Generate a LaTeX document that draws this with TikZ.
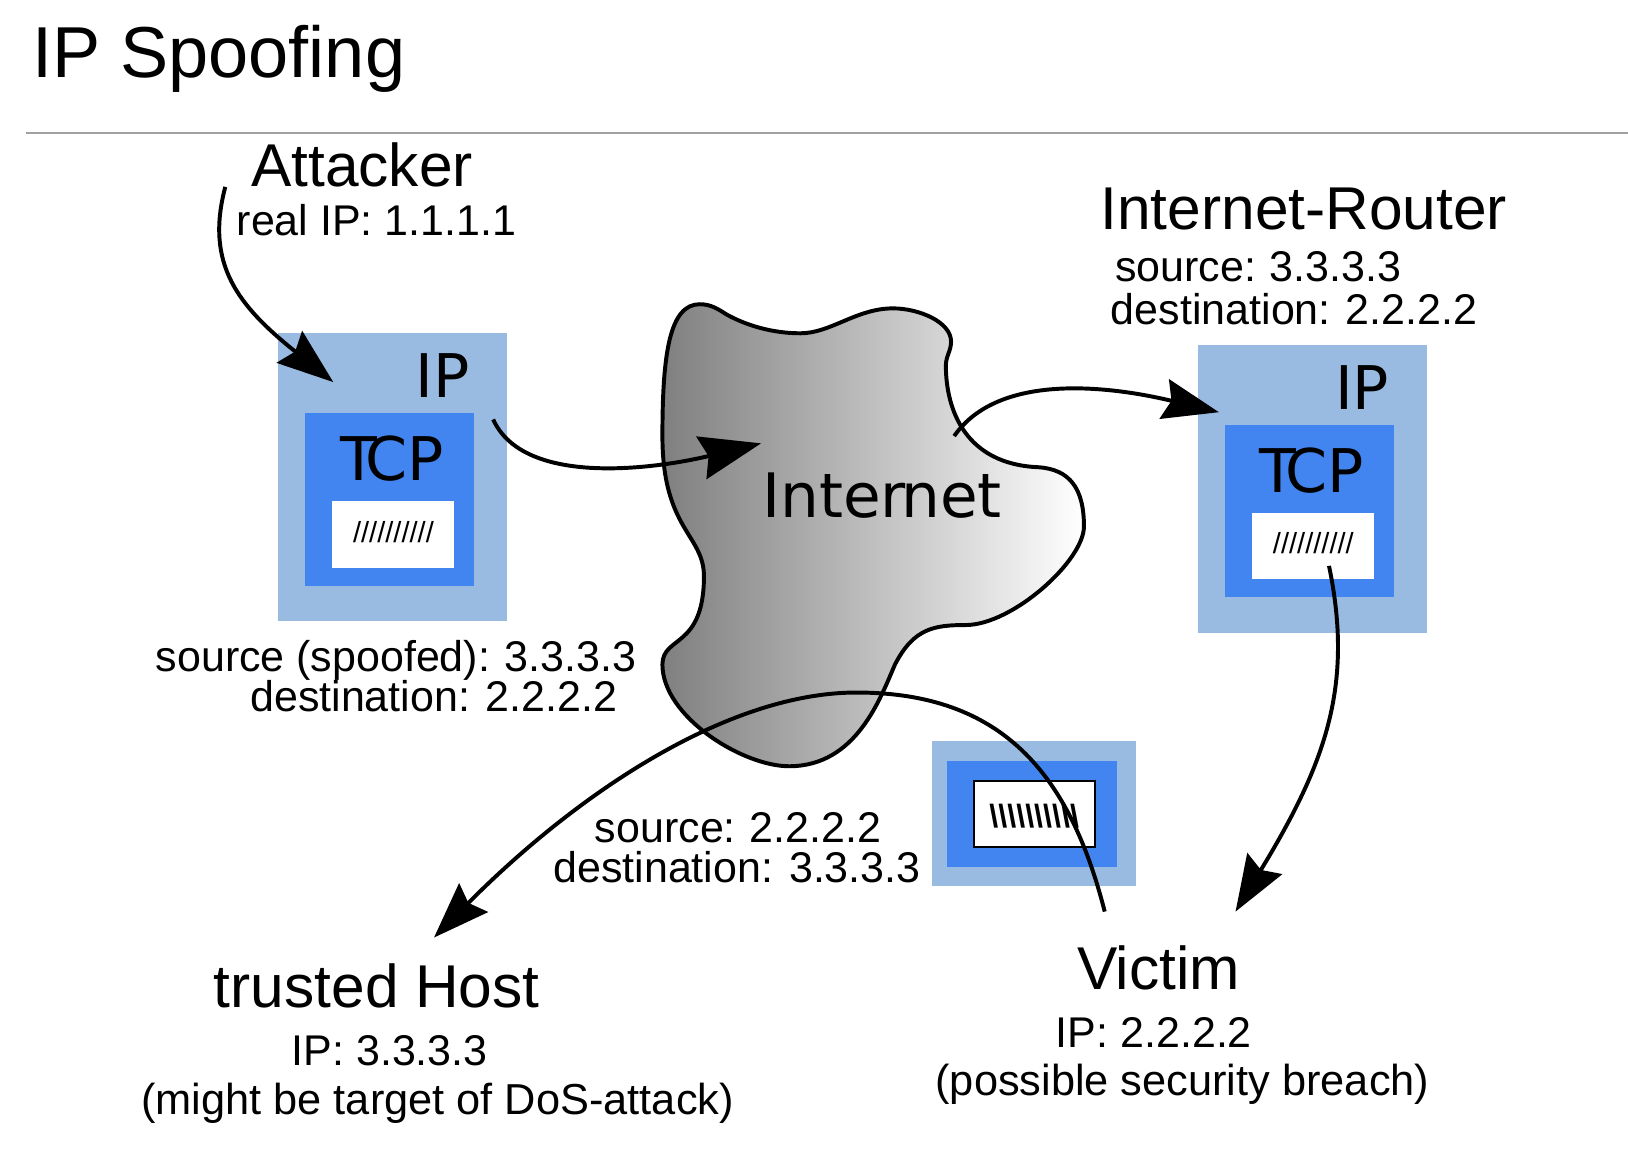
\documentclass[tikz,border=0pt]{standalone}
\usepackage{fontspec}
\setmainfont{Liberation Sans}
\newfontfamily\dejavu{DejaVu Sans}
\usetikzlibrary{arrows.meta}
\definecolor{ipblue}{HTML}{99BBE2}
\definecolor{tcpblue}{HTML}{4285F0}
\definecolor{rulegray}{HTML}{A0A0A0}
\tikzset{
  x=1pt,y=-1pt,
  txt/.style={inner sep=0pt,outer sep=0pt,anchor=base west,font=\fontsize{41.4}{48}\selectfont},
  txtw/.style={txt,font=\fontsize{41.75}{48}\selectfont},
  big/.style={txt,font=\fontsize{58.2}{66}\selectfont},
  lay/.style={txt,font=\dejavu\fontsize{58}{68}\selectfont},
  ipbox/.style={fill=ipblue,draw=none,inner sep=0pt,outer sep=0pt},
  tcpbox/.style={fill=tcpblue,draw=none,inner sep=0pt,outer sep=0pt},
  databox/.style={fill=white,draw=none,inner sep=0pt,outer sep=0pt},
  wire/.style={line width=3.8pt,-{Stealth[length=54pt,width=39pt,inset=7pt]}},
  bigwire/.style={line width=3.8pt,-{Stealth[length=59pt,width=42pt,inset=7pt]}},
}
\begin{document}
\begin{tikzpicture}
\useasboundingbox (0,0) rectangle (1568,1111.4);
\node[txt,font=\fontsize{69.5}{80}\selectfont] (title) at (31,75) {IP Spoofing};
\coordinate (ruleL) at (25,128.5);
\coordinate (ruleR) at (1568,128.5);
\draw[rulegray,line width=2pt] (ruleL) -- (ruleR);
% packets
\node[ipbox,minimum width=220pt,minimum height=277pt] (ipA) at (378,459.5) {};
\node[tcpbox,minimum width=163pt,minimum height=166pt] (tcpA) at (375.5,481) {};
\node[databox,minimum width=117pt,minimum height=64pt] (dataA) at (378.5,515) {};
\node[ipbox,minimum width=220pt,minimum height=278pt] (ipB) at (1264,471) {};
\node[tcpbox,minimum width=163pt,minimum height=166pt] (tcpB) at (1261.5,492) {};
\node[databox,minimum width=117pt,minimum height=64pt] (dataB) at (1264.5,526) {};
\node[ipbox,minimum width=196pt,minimum height=139pt] (ipC) at (996,783.5) {};
\node[tcpbox,minimum width=164pt,minimum height=102pt] (tcpC) at (994,784) {};
\node[databox,draw=black,line width=1.8pt,minimum width=116pt,minimum height=63pt] (dataC) at (996.5,784) {};
% cloud
\draw[line width=3.8pt,left color=black!50,right color=white]
  (674,293) .. controls (685,293) and (692,298) .. (700,303)
  .. controls (720,314) and (745,321) .. (771,321)
  .. controls (800,321) and (825,297) .. (860,297)
  .. controls (885,297) and (916,310) .. (916,329)
  .. controls (916,338) and (911,343) .. (911,352)
  .. controls (911,395) and (930,447) .. (1000,450)
  .. controls (1030,452) and (1044,470) .. (1044,507)
  .. controls (1044,540) and (975,602) .. (930,602)
  .. controls (900,602) and (880,605) .. (862,640)
  .. controls (848,672) and (825,738) .. (760,738)
  .. controls (715,738) and (638,690) .. (638,640)
  .. controls (638,612) and (678,625) .. (678,555)
  .. controls (678,515) and (638,510) .. (638,420)
  .. controls (638,340) and (645,293) .. (674,293) -- cycle;
\node[lay,font=\dejavu\fontsize{59}{70}\selectfont] (internet) at (734,498) {Inter\kern-4.5pt net};
% labels
\node[big] (attacker) at (242,180) {Attacker};
\node[txt] (realip) at (228,227) {real IP: 1.1.1.1};
\node[big] (router) at (1060,221) {Internet-Router};
\node[txt] (rsrc) at (1074,271) {source:\kern-2pt{} 3.3.3.3};
\node[txt] (rdst) at (1070,313) {destination:\kern-1pt{} 2.2.2.2};
\node[lay] (ipAl) at (400,383) {IP};
\node[lay] (tcpAl) at (327.5,463) {T\kern-11pt CP};
\node[lay] (ipBl) at (1286,394) {IP};
\node[lay] (tcpBl) at (1213.5,474) {T\kern-11pt CP};
\node[txt,font=\fontsize{28}{30}\selectfont] (slA) at (340,522.5) {//////////};
\node[txt,font=\fontsize{28}{30}\selectfont] (slB) at (1226,533.5) {//////////};
\node[txt,font=\bfseries\fontsize{31}{34}\selectfont] (slC) at (953,797) {\textbackslash\textbackslash\textbackslash\textbackslash\textbackslash\textbackslash\textbackslash\textbackslash\textbackslash\textbackslash};
\node[txt] (ssrc) at (150,647) {source (spoofed):\kern-1.5pt{} 3.3.3.3};
\node[txt] (sdst) at (241,685.5) {destination: 2.2.2.2};
\node[txt] (bsrc) at (573,811) {source:\kern-2pt{} 2.2.2.2};
\node[txt] (bdst) at (533,850) {destination: 3.3.3.3};
\node[big] (host) at (206,970) {trusted Host};
\node[txt] (hostip) at (281,1026.5) {IP: 3.3.3.3};
\node[txtw] (hostn) at (136,1073) {(might be target of DoS-attack)};
\node[big] (victim) at (1038,953) {V\kern-2pt ictim};
\node[txt] (vicip) at (1017,1009) {IP: 2.2.2.2};
\node[txtw] (vicn) at (901,1055) {(possible security breach)};
% connectors
\coordinate (a0) at (217,180);
\coordinate (a1) at (321,368);
\coordinate (b0) at (475,404);
\coordinate (b1) at (733,427);
\coordinate (c0) at (919,420);
\coordinate (c1) at (1174,397);
\coordinate (d0) at (1280,545);
\coordinate (d1) at (1190,878);
\coordinate (e0) at (1064,878);
\coordinate (em) at (825,667);
\coordinate (e1) at (418,903);
\draw[wire] (a0) .. controls (197,255) and (230,295) .. (a1);
\draw[bigwire] (b0) .. controls (505,470) and (634,451) .. (b1);
\draw[wire] (c0) .. controls (962,358) and (1070,372) .. (c1);
\draw[wire] (d0) .. controls (1304,660) and (1277,735) .. (d1);
\draw[wire] (e0) .. controls (1030,745) and (965,667) .. (em)
   .. controls (700,667) and (555,765) .. (e1);
\end{tikzpicture}
\end{document}
